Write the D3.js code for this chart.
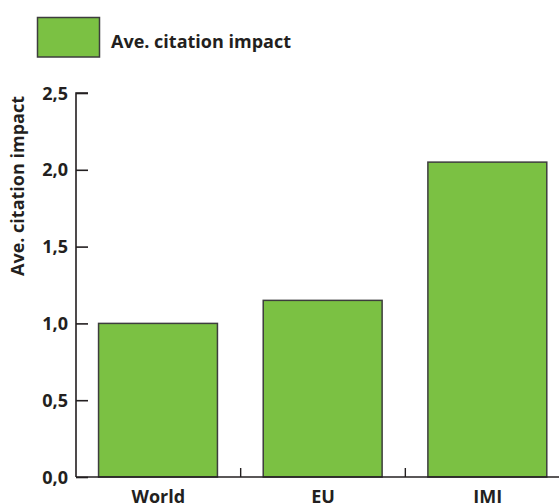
<!DOCTYPE html>
<html><head><meta charset="utf-8">
<script src="https://cdn.jsdelivr.net/npm/d3@7/dist/d3.min.js"></script>
<style>body{margin:0;background:#fff}svg{display:block}text{font-family:"Open Sans",sans-serif;font-weight:700;fill:#231f20}</style>
</head><body><svg id="c" width="559" height="503"></svg>
<script>
const categories = ["World", "EU", "IMI"];
const values = [1.0, 1.15, 2.05];
const yTicks = [0, 0.5, 1.0, 1.5, 2.0, 2.5];
const yTickLabels = ["0,0", "0,5", "1,0", "1,5", "2,0", "2,5"];
const seriesName = "Ave. citation impact";

const svg = d3.select("#c");
const green = "#7bc143", stroke = "#3d3d3d", ink = "#231f20";
const x = d3.scaleBand().domain(categories).range([76, 570]).padding(0);
const y = d3.scaleLinear().domain([0, 2.5]).range([477, 93]);
const step = x.step();

// bars
svg.selectAll("rect.bar").data(values).enter().append("rect")
  .attr("class", "bar")
  .attr("x", (d, i) => x(categories[i]) + step * 0.137)
  .attr("width", step * 0.722)
  .attr("y", d => y(d))
  .attr("height", d => y(0) - y(d))
  .attr("fill", green).attr("stroke", stroke).attr("stroke-width", 1.5);

// y axis
const yAxis = d3.axisRight(y).tickValues(yTicks).tickSize(12).tickFormat(() => "");
const gy = svg.append("g").attr("transform", "translate(76,0)").call(yAxis);
gy.select(".domain").attr("d", "M12,93H0V477").attr("stroke", ink).attr("stroke-width", 1.6).attr("fill", "none");
gy.selectAll(".tick line").attr("stroke", ink).attr("stroke-width", 1.6);
gy.selectAll(".tick text").remove();
svg.selectAll("text.ylab").data(yTicks).enter().append("text")
  .attr("class", "ylab").attr("x", 68).attr("y", d => y(d) + 6.5)
  .attr("text-anchor", "end").style("font-size", "18px")
  .text((d, i) => yTickLabels[i]);

// x axis
svg.append("line").attr("x1", 76).attr("x2", 559).attr("y1", 477).attr("y2", 477)
  .attr("stroke", ink).attr("stroke-width", 1.6);
const bounds = categories.slice(1).map(c => x(c));
svg.selectAll("line.xt").data(bounds).enter().append("line")
  .attr("class", "xt").attr("x1", d => d).attr("x2", d => d)
  .attr("y1", 477).attr("y2", 468).attr("stroke", ink).attr("stroke-width", 1.4);
svg.selectAll("text.xlab").data(categories).enter().append("text")
  .attr("class", "xlab").attr("x", d => x(d) + step / 2).attr("y", 503)
  .attr("text-anchor", "middle").style("font-size", "18px").text(d => d);

// y title
svg.append("text").attr("transform", "translate(24,186) rotate(-90)")
  .attr("text-anchor", "middle").style("font-size", "18px").text(seriesName);

// legend
svg.append("rect").attr("x", 37.5).attr("y", 17.5).attr("width", 62).attr("height", 39.5)
  .attr("fill", green).attr("stroke", stroke).attr("stroke-width", 1.5);
svg.append("text").attr("x", 111).attr("y", 47.5).style("font-size", "18px").text(seriesName);
</script></body></html>
